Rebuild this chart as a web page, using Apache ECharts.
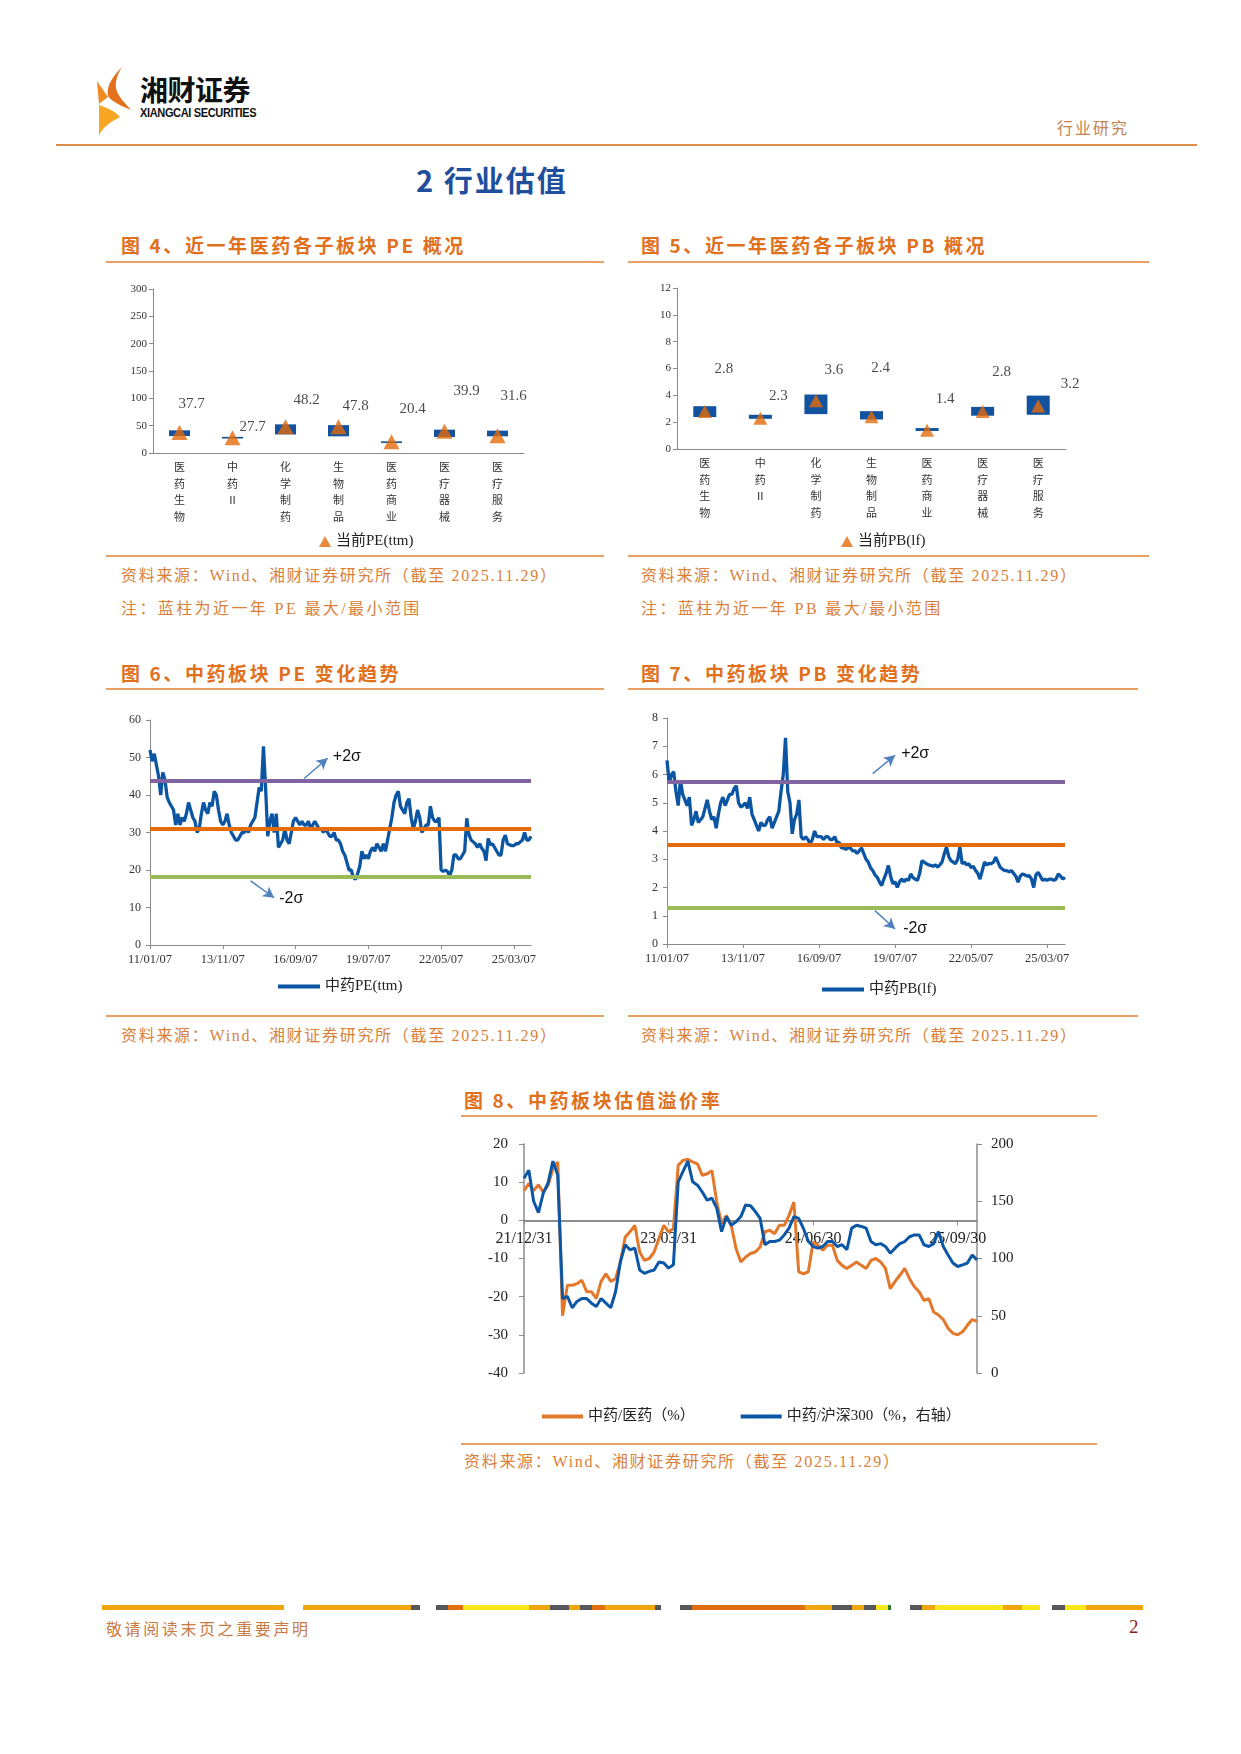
<!DOCTYPE html>
<html><head><meta charset="utf-8">
<script src="https://cdn.jsdelivr.net/npm/echarts@6/dist/echarts.min.js"></script>
<style>
body{margin:0;background:#fff;}
#page{position:relative;width:1241px;height:1754px;overflow:hidden;background:#fff;font-family:"Noto Sans CJK SC",sans-serif;}
.t{position:absolute;white-space:nowrap;}
.figt{font-weight:bold;color:#E0701C;font-size:19px;line-height:22px;letter-spacing:2.6px;}
.src{color:#D9813A;font-size:16px;line-height:17px;letter-spacing:1.7px;font-family:"Liberation Serif","Noto Sans CJK SC",serif;}
.note{letter-spacing:2.4px;}
.hl{position:absolute;height:1.5px;background:#E6A064;}
.ch{position:absolute;}
</style></head>
<body><div id="page">
<svg class="t" style="left:94px;top:64px" width="42" height="76" viewBox="94 64 42 76">
  <path d="M123,66 C113,76 106,86 108,96 C112,102 122,106 131,110 C122,100 114,92 116,82 C117,76 119,71 123,66 Z" fill="#E2701C"/>
  <path d="M97,81 L108,97 L99,104 Z" fill="#EE8B22"/>
  <path d="M99,105 C108,108 116,112 120,117 C110,122 102,128 99,136 Z" fill="#F6A623"/>
</svg>
<div class="t" style="left:140px;top:74px;font-size:28px;line-height:30px;font-weight:bold;color:#111;letter-spacing:-0.5px;">湘财证券</div>
<div class="t" style="left:140px;top:107px;font-size:12px;line-height:12px;font-weight:bold;color:#111;font-family:'Liberation Sans Narrow','Liberation Sans',sans-serif;letter-spacing:-0.4px;transform-origin:0 0;transform:scaleX(0.92);">XIANGCAI SECURITIES</div>
<div class="t" style="left:1057px;top:118px;font-size:16px;line-height:18px;color:#C2834F;letter-spacing:2px;">行业研究</div>
<div style="position:absolute;left:56px;top:144px;width:1141px;height:2px;background:#D98E4C;"></div>
<div class="t" style="left:416px;top:163px;font-size:29px;line-height:33px;font-weight:bold;color:#1E4E9C;letter-spacing:2px;">2 行业估值</div>

<div class="t figt" style="left:121px;top:234px;">图 4、近一年医药各子板块 PE 概况</div>
<div class="hl" style="left:106px;top:261px;width:498px;"></div>
<div class="t figt" style="left:641px;top:234px;">图 5、近一年医药各子板块 PB 概况</div>
<div class="hl" style="left:628px;top:261px;width:521px;"></div>
<div id="c1" class="ch" style="left:106px;top:270px;width:500px;height:284px;"></div>
<div id="c2" class="ch" style="left:628px;top:270px;width:522px;height:284px;"></div>
<div class="hl" style="left:106px;top:555px;width:498px;"></div>
<div class="hl" style="left:628px;top:555px;width:521px;"></div>
<div class="t src" style="left:121px;top:567px;">资料来源：Wind、湘财证券研究所（截至 2025.11.29）</div>
<div class="t src note" style="left:121px;top:600px;">注：蓝柱为近一年 PE 最大/最小范围</div>
<div class="t src" style="left:641px;top:567px;">资料来源：Wind、湘财证券研究所（截至 2025.11.29）</div>
<div class="t src note" style="left:641px;top:600px;">注：蓝柱为近一年 PB 最大/最小范围</div>

<div class="t figt" style="left:121px;top:662px;">图 6、中药板块 PE 变化趋势</div>
<div class="hl" style="left:106px;top:688px;width:498px;"></div>
<div class="t figt" style="left:641px;top:662px;">图 7、中药板块 PB 变化趋势</div>
<div class="hl" style="left:628px;top:688px;width:510px;"></div>
<div id="c3" class="ch" style="left:106px;top:700px;width:500px;height:312px;"></div>
<div id="c4" class="ch" style="left:628px;top:700px;width:522px;height:312px;"></div>
<div class="hl" style="left:106px;top:1015px;width:498px;"></div>
<div class="hl" style="left:628px;top:1015px;width:510px;"></div>
<div class="t src" style="left:121px;top:1027px;">资料来源：Wind、湘财证券研究所（截至 2025.11.29）</div>
<div class="t src" style="left:641px;top:1027px;">资料来源：Wind、湘财证券研究所（截至 2025.11.29）</div>

<div class="t figt" style="left:464px;top:1089px;">图 8、中药板块估值溢价率</div>
<div class="hl" style="left:461px;top:1115px;width:636px;"></div>
<div id="c5" class="ch" style="left:450px;top:1120px;width:660px;height:320px;"></div>
<div class="hl" style="left:461px;top:1443px;width:636px;"></div>
<div class="t src" style="left:464px;top:1453px;">资料来源：Wind、湘财证券研究所（截至 2025.11.29）</div>

<div id="stripe"></div>
<div class="t" style="left:106px;top:1619px;font-size:16px;line-height:18px;color:#C87B44;letter-spacing:2.6px;">敬请阅读末页之重要声明</div>
<div class="t" style="left:1129px;top:1617px;font-size:19px;line-height:20px;color:#8B1A2B;font-family:'Liberation Serif',serif;">2</div>
</div>
<script>
// ---------- DATA ----------
const sectorCats = ['医药生物','中药Ⅱ','化学制药','生物制品','医药商业','医疗器械','医疗服务'];
const peMin = [31.0, 26.5, 34.0, 30.5, 18.3, 29.3, 30.5];
const peMax = [41.5, 29.5, 52.4, 51.0, 21.3, 42.7, 40.9];
const peNow = [37.7, 27.7, 48.2, 47.8, 20.4, 39.9, 31.6];
const pbMin = [2.38, 2.25, 2.60, 2.20, 1.34, 2.48, 2.55];
const pbMax = [3.19, 2.55, 4.06, 2.82, 1.56, 3.14, 3.98];
const pbNow = [2.8, 2.3, 3.6, 2.4, 1.4, 2.8, 3.2];

const trendTickLabels = ['11/01/07','13/11/07','16/09/07','19/07/07','22/05/07','25/03/07'];
const tcmPE = [
 52,49,51,48,45,40,46,44,39.5,38,
 37,36,32,35,32,34,33,35,38,36,
 34,33,30,31,35,38,36,35,38,37,
 41,40,36,33,32,33,35,32,30,29,
 28,28,29,30,30,31,30,32,33,34,
 38,42,41,53,42,29,33,35,30,35,
 26,27,28,31,28,27,30,33,34,33,
 32,33,32,32,33,31,32,33,32,31,
 31,30,31,30,29,29,30,28,28,27,
 25,24,22,20,20,18,17.5,19,21,25,
 23,24,23,25,26,25,27,26,25,27,
 25,28,31,34,38,40,41,37,36,35,
 38,39,34,31,33,36,34,30,31,32,
 32,37,34,33,33,34,20,19.6,20,19.6,
 18.5,20,24,24,23,23,24,25,33.8,29.5,
 28,27.5,27,26,27,25.8,25,22.5,28.4,26.7,
 27,26,25,24,24,28,29.3,27,26.7,26.5,
 26.5,27,27,27.5,28,30,28,28,29];
const pePlus2 = 43.8, peMean = 30.9, peMinus2 = 18.3;
const tcmPB = [
 6.5,5.7,6.0,6.1,5.4,4.9,5.8,5.3,5.1,4.9,
 5.2,4.2,4.4,4.7,4.3,4.4,4.5,4.8,5.1,4.7,
 4.4,4.5,4.1,4.6,5.0,5.2,4.9,5.1,5.3,5.3,
 5.5,5.6,5.0,4.85,4.9,5.0,4.8,5.2,4.6,4.4,
 4.2,4.0,4.3,4.2,4.2,4.4,4.5,4.1,4.3,4.5,
 4.7,5.4,6.0,7.3,5.4,5.0,3.9,4.4,4.6,5.1,
 3.8,3.7,3.8,3.7,3.55,3.7,4.0,3.8,3.8,3.8,
 3.7,3.8,3.8,3.7,3.7,3.8,3.6,3.6,3.4,3.4,
 3.35,3.4,3.4,3.3,3.3,3.2,3.3,3.4,3.2,3.0,
 2.9,2.7,2.6,2.45,2.36,2.2,2.07,2.3,2.5,2.78,
 2.4,2.13,2.2,2.0,2.2,2.3,2.2,2.3,2.25,2.48,
 2.35,2.3,2.25,2.5,2.95,2.9,2.84,2.8,2.78,2.75,
 2.8,2.72,2.8,2.9,3.19,3.43,3.1,2.95,2.9,2.84,
 3.0,3.43,2.84,2.9,2.8,2.84,2.7,2.75,2.6,2.5,
 2.3,2.6,2.9,2.8,2.85,2.84,2.9,3.07,2.9,2.72,
 2.65,2.6,2.6,2.55,2.6,2.5,2.4,2.19,2.4,2.48,
 2.45,2.4,2.42,2.3,2.0,2.45,2.54,2.4,2.25,2.3,
 2.25,2.3,2.3,2.25,2.3,2.48,2.4,2.3,2.36];
const pbPlus2 = 5.73, pbMean = 3.52, pbMinus2 = 1.29;

const premiumTickLabels = ['21/12/31','23/03/31','24/06/30','25/09/30'];
const tcmVsPharma = [
 7.8,9.6,7.8,9.3,7.4,9.2,13.5,15.3,-25,-17,
 -17,-16.6,-15.7,-18.7,-18.7,-20.5,-16,-14,-16,-15.3,
 -10.9,-4.4,-3,-1.3,-8.3,-10.5,-10,-8.3,-4.8,-1.3,
 -3,-2.2,14.4,15.7,16,15.3,14.8,11.8,12.2,13,
 4.8,-0.9,1.3,-1.3,-7.4,-10.9,-9.6,-8.7,-8.3,-7,
 -3,-2.6,-3.5,-1.3,-1.3,1.3,4.8,-13.5,-14,-13.5,
 -5.7,-6.5,-7.8,-6.5,-6.5,-10.5,-11.8,-12.6,-11.8,-10.9,
 -11.8,-12.6,-10.5,-10,-10.9,-12.6,-17.9,-16,-14.4,-12.6,
 -15.3,-17.4,-18.7,-21,-20.5,-24,-24.8,-26,-28.3,-29.6,
 -30,-29.2,-27.5,-26,-26.5];
const tcmVsHS300 = [
 170,177,150,140,157,166,185,173,65,67,
 57,62.5,65,65,61,58,65,61,57,71,
 97,112,107.6,109,90,87,88.7,90,97,96,
 91.6,94.5,167,176,185,167,164,158,151,152.6,
 144,123.5,136.6,129,132,136.6,146.8,146,141,135,
 112,114.8,114.8,116,120.6,126.5,136.6,135,126,115,
 110.5,109,110.5,114.8,114.8,110.5,112,107.6,126.5,129,
 128,126.5,114.8,112,113,110.5,104.6,109,113,114.8,
 119,120.6,120.6,112,110.5,113,123.5,110.5,103,96,
 93,94.5,96,103,98.8];
const leftMin = -40, leftMax = 20, rightMin = 0, rightMax = 200;

// ---------- helpers ----------
const SERIF = '"Liberation Serif","Noto Sans CJK SC",serif';
const CJK = '"Noto Sans CJK SC",sans-serif';
const AX = '#8a8a8a';
const p2 = n => String(n).padStart(2,'0');
const trendDates = tcmPE.map((_, m) => p2((2011 + Math.floor(m/12)) % 100) + '/' + p2(m%12+1) + '/07');
const premiumDates = tcmVsPharma.map((_, i) => {
  const mi = 11 + Math.ceil(i/2); const y = 2021 + Math.floor(mi/12), mo = mi % 12;
  const d = (i % 2 === 1) ? 15 : new Date(y, mo+1, 0).getDate();
  return p2(y%100) + '/' + p2(mo+1) + '/' + p2(d);
});

// stripe decoration
const stripe = [[102,284,'#F0A70F'],[303,411,'#F0A70F'],[411,420,'#58585A'],[436,448,'#58585A'],[448,463,'#E2700F'],[463,529,'#F8E71A'],[529,550,'#F0A70F'],[550,569,'#58585A'],[569,580,'#F0A70F'],[580,592,'#58585A'],[592,605,'#E2700F'],[605,655,'#F0A70F'],[655,661,'#58585A'],[680,692,'#58585A'],[692,805,'#DD6F10'],[805,832,'#F0A70F'],[832,852,'#58585A'],[852,864,'#F0A70F'],[864,876,'#58585A'],[876,888,'#F8E71A'],[888,891,'#2E7D32'],[910,922,'#58585A'],[922,935,'#F0A70F'],[935,1003,'#F8E71A'],[1003,1022,'#F0A70F'],[1022,1040,'#F8E71A'],[1052,1065,'#58585A'],[1065,1086,'#F8E71A'],[1086,1143,'#F0A70F']];
const st = document.getElementById('stripe');
stripe.forEach(s => { const d = document.createElement('div'); d.style.cssText = `position:absolute;left:${s[0]}px;top:1605px;width:${s[1]-s[0]}px;height:5px;background:${s[2]};`; st.appendChild(d); });

function rangeChart(id, mins, maxs, nows, yMax, yInt, name, bw, sym, dx, dy, grid, legendLeft){
  const c = echarts.init(document.getElementById(id));
  c.setOption({
    animation:false,
    grid: grid,
    legend:{data:[{name:name, icon:'triangle'}], left:legendLeft, top:259, itemWidth:12, itemHeight:11, itemGap:6,
      textStyle:{fontSize:15, fontFamily:SERIF, color:'#222'}},
    xAxis:{type:'category', data:sectorCats, axisLine:{lineStyle:{color:AX}}, axisTick:{length:4, lineStyle:{color:AX}},
      axisLabel:{formatter:v=>v.split('').join('\n'), fontSize:11, lineHeight:16.5, color:'#333', fontFamily:CJK, margin:6}},
    yAxis:{type:'value', min:0, max:yMax, interval:yInt, axisLine:{show:true, lineStyle:{color:AX}},
      axisTick:{show:true, length:4, lineStyle:{color:AX}}, splitLine:{show:false},
      axisLabel:{fontSize:11, fontFamily:SERIF, color:'#333', margin:6}},
    series:[
      {type:'bar', stack:'r', data:mins, barWidth:bw, itemStyle:{color:'rgba(0,0,0,0)'}, silent:true},
      {type:'bar', stack:'r', data:maxs.map((v,i)=>+(v-mins[i]).toFixed(3)), barWidth:bw, itemStyle:{color:'#12529E'}},
      {type:'scatter', name:name, z:5, symbol:'triangle', symbolSize:sym, itemStyle:{color:'#E46C0A'},
        data: nows.map((v,i)=>({value:[i, v], label:{offset:[dx[i], -dy[i]]}})),
        label:{show:true, position:'inside', color:'#1a1a1a', fontSize:15, fontFamily:SERIF, formatter:p=>p.value[1].toFixed(1)}}
    ]
  });
}
rangeChart('c1', peMin, peMax, peNow, 300, 50, '当前PE(ttm)', 21, [16,15],
  [12,20,21,17,21,22,16], [28,11,27,21,33,40,40], {left:47, top:19, width:371, height:164}, 208);
rangeChart('c2', pbMin, pbMax, pbNow, 12, 2, '当前PB(lf)', 23, [14,13],
  [19,18,18,9,18,19,32], [42,22,31,49,31,39,22], {left:49, top:18, width:389, height:161}, 208);

function trendChart(id, data, yMax, yInt, bands, arrows, texts, grid, name, legendLeft, legendTop){
  const c = echarts.init(document.getElementById(id));
  const bandColors = ['#8064A2','#E46C0A','#9BBB59'];
  const ml = bands.map((b,i)=>({yAxis:b, lineStyle:{color:bandColors[i], width:4, type:'solid'}}));
  arrows.forEach(a => ml.push([
    {coord:[trendDates[a[0]], a[1]], symbol:'none', lineStyle:{color:'#4F81BD', width:1.5, type:'solid'}},
    {coord:[trendDates[a[2]], a[3]], symbol:'arrow', symbolSize:[9,11]}
  ]));
  c.setOption({
    animation:false,
    grid: grid,
    legend:{data:[{name:name, icon:'rect'}], left:legendLeft, top:legendTop, itemWidth:42, itemHeight:4, itemGap:8,
      textStyle:{fontSize:15, fontFamily:SERIF, color:'#222'}},
    xAxis:{type:'category', data:trendDates, boundaryGap:false, axisLine:{lineStyle:{color:AX}},
      axisTick:{length:4, interval:(i,v)=>trendTickLabels.includes(v), lineStyle:{color:AX}},
      axisLabel:{interval:(i,v)=>trendTickLabels.includes(v), fontSize:12.5, fontFamily:SERIF, color:'#333', margin:8}},
    yAxis:{type:'value', min:0, max:yMax, interval:yInt, axisLine:{show:true, lineStyle:{color:AX}},
      axisTick:{show:true, length:4, lineStyle:{color:AX}}, splitLine:{show:false},
      axisLabel:{fontSize:12, fontFamily:SERIF, color:'#333', margin:9}},
    series:[{type:'line', name:name, data:data, symbol:'none', lineStyle:{width:3.3, color:'#0B55A3'}, itemStyle:{color:'#0B55A3'},
      markLine:{silent:true, animation:false, symbol:['none','none'], label:{show:false}, data:ml},
      markPoint:{silent:true, animation:false, symbol:'rect', symbolSize:1, itemStyle:{color:'rgba(0,0,0,0)'},
        label:{show:true, position:'inside', formatter:p=>p.name, color:'#111', fontSize:16, fontFamily:'"Liberation Sans",sans-serif'},
        data: texts.map(t=>({name:t[0], coord:[trendDates[t[1]], t[2]]}))}
    }]
  });
}
trendChart('c3', tcmPE, 60, 10, [pePlus2, peMean, peMinus2],
  [[72, 44.4, 83, 49.8],[47, 17.1, 58, 12.6]], [['+2σ', 92, 50.2],['-2σ', 66, 12.4]],
  {left:44, top:20, width:381, height:225}, '中药PE(ttm)', 167, 274);
trendChart('c4', tcmPB, 8, 1, [pbPlus2, pbMean, pbMinus2],
  [[92, 6.03, 102, 6.68],[93, 1.18, 102, 0.53]], [['+2σ', 111, 6.74],['-2σ', 111, 0.53]],
  {left:39, top:18, width:398, height:226}, '中药PB(lf)', 189, 277);

// chart 5 — main grid plus an overlay grid whose bottom edge sits on the left axis' zero
(function(){
  const c = echarts.init(document.getElementById('c5'));
  const G = {left:74, top:24, width:453, height:229};
  const zeroH = G.height * (leftMax - 0) / (leftMax - leftMin);
  const axLine = {show:true, lineStyle:{color:'#8C8C8C', width:1.5}};
  c.setOption({
    animation:false,
    grid:[G, {left:G.left, top:G.top, width:G.width, height:zeroH}],
    legend:{data:[{name:'中药/医药（%）', icon:'rect'},{name:'中药/沪深300（%，右轴）', icon:'rect'}],
      left:87, top:284, itemWidth:41, itemHeight:4, itemGap:46, textStyle:{fontSize:15, fontFamily:SERIF, color:'#222'}},
    xAxis:[
      {type:'category', gridIndex:0, data:premiumDates, boundaryGap:false, show:false, axisLine:{onZero:false}},
      {type:'category', gridIndex:1, data:premiumDates, boundaryGap:false, position:'bottom',
        axisLine:{onZero:false, lineStyle:{color:'#8C8C8C', width:2}},
        axisTick:{length:5, interval:(i,v)=>premiumTickLabels.includes(v), lineStyle:{color:'#8C8C8C'}},
        axisLabel:{interval:(i,v)=>premiumTickLabels.includes(v), fontSize:16, fontFamily:SERIF, color:'#222', margin:10}}
    ],
    yAxis:[
      {type:'value', gridIndex:0, min:leftMin, max:leftMax, interval:10, axisLine:axLine, axisTick:{show:true, length:5, lineStyle:{color:'#8C8C8C'}},
        splitLine:{show:false}, axisLabel:{fontSize:15, fontFamily:SERIF, color:'#222', margin:16}},
      {type:'value', gridIndex:0, min:rightMin, max:rightMax, interval:50, position:'right', axisLine:axLine, axisTick:{show:true, length:5, lineStyle:{color:'#8C8C8C'}},
        splitLine:{show:false}, axisLabel:{fontSize:15, fontFamily:SERIF, color:'#222', margin:14}},
      {type:'value', gridIndex:1, min:0, max:1, show:false}
    ],
    series:[
      {type:'line', name:'中药/医药（%）', data:tcmVsPharma, xAxisIndex:0, yAxisIndex:0, symbol:'none', z:3, lineStyle:{width:3, color:'#E3782B'}, itemStyle:{color:'#E3782B'}},
      {type:'line', name:'中药/沪深300（%，右轴）', data:tcmVsHS300, xAxisIndex:0, yAxisIndex:1, symbol:'none', z:4, lineStyle:{width:3, color:'#0B57A6'}, itemStyle:{color:'#0B57A6'}}
    ]
  });
})();
</script>
</body></html>
